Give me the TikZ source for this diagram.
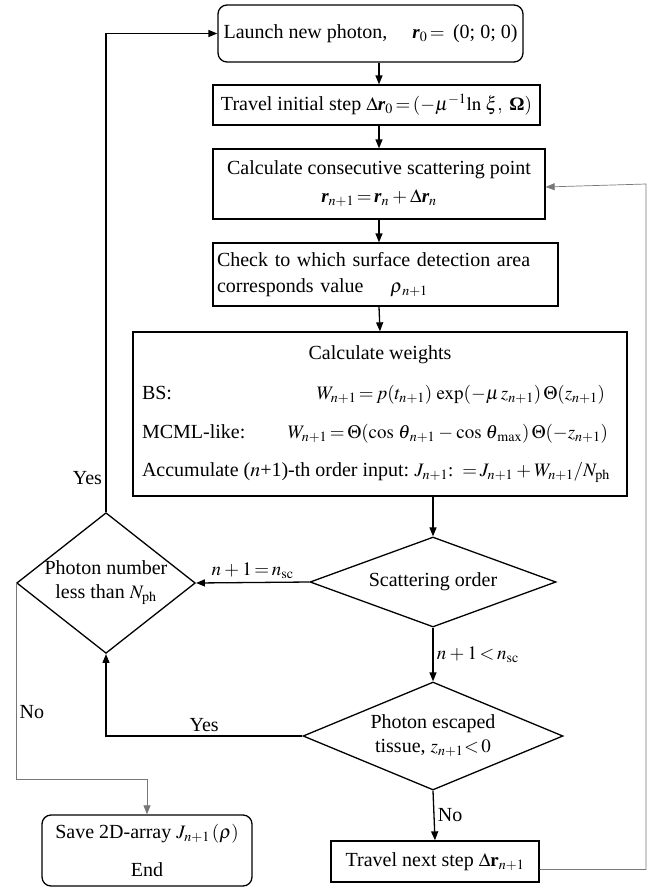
\documentclass[tikz,border=0pt]{standalone}
\usepackage{mathptmx}
\usepackage[no-math]{fontspec}
\setmainfont{Liberation Serif}
\usepackage{tikz}
\usetikzlibrary{positioning,shapes.geometric,arrows.meta}
\definecolor{flowink}{RGB}{0,0,0}
\definecolor{loopgray}{RGB}{120,120,120}
\newcommand{\bfr}{\mbox{\bfseries\itshape r}}
\newcommand{\tightmath}{\thickmuskip=2.5mu plus 1mu\medmuskip=3mu plus 1mu\thinmuskip=2mu}
\newcommand{\fm}[1]{{\fontsize{19}{23}\selectfont$#1$}}

\begin{document}
\begin{tikzpicture}[x=1pt,y=-1pt, line width=1.3pt, draw=flowink, >={Triangle[length=9pt,width=7pt]},
    every node/.style={font=\fontsize{20}{24}\selectfont\tightmath}]
  \tikzstyle{procbox}=[rectangle, draw, inner sep=0pt, align=center]
  \tikzstyle{roundbox}=[procbox, rounded corners=9pt]
  \tikzstyle{decision}=[diamond, draw, inner sep=0pt, align=center]
  \tikzstyle{thinline}=[line width=0.7pt, draw=loopgray]
  \useasboundingbox (0,0) rectangle (648,887);
  \node[roundbox, minimum width=305pt, minimum height=57pt] (launch) at (370.5,33.5)
    {Launch new photon, \quad \fm{\bfr_0 =} \,(0; 0; 0)};
  \node[procbox, minimum width=327pt, minimum height=40pt] (travel0) at (376.5,105)
    {Travel initial step \fm{\Delta\bfr_0 = (-\mu^{-1}\!\ln\,\xi,\ \mbox{\bfseries Ω})}};
  \node[procbox, minimum width=332pt, minimum height=70pt] (calc) at (379,184)
    {Calculate consecutive scattering point\\[4pt] \fm{\bfr_{n+1} = \bfr_n + \Delta\bfr_n}};
  \node[procbox, inner xsep=4pt, text width=337pt, minimum height=63pt, align=left,
    font=\fontsize{20}{26}\selectfont\tightmath] (check) at (385.5,274.5)
    {Check to which surface detection area\\corresponds value \quad \fm{\rho_{\,n+1}}};
  \node[procbox, minimum width=494pt, minimum height=164pt] (weights) at (380,414)
    {Calculate weights\\[16pt]
     \hbox to 476pt{BS:\hfill \fm{W_{n+1} = p(t_{n+1})\,\exp(-\mu\,z_{n+1})\,\Theta(z_{n+1})}\hskip 13pt}\\[15pt]
     \hbox to 476pt{MCML-like:\hfill \fm{W_{n+1} = \Theta(\cos\,\theta_{\,n+1} - \cos\,\theta_{\,\max})\,\Theta(-z_{n+1})}\hskip 10pt}\\[14pt]
     \hbox to 476pt{Accumulate ($n$+1)-th order input:\hfill \fm{J_{n+1}\mbox{: } = J_{n+1} + W_{n+1}/N_{\mathrm{ph}}}\hskip 8pt}};
  \node[decision, shape aspect=2.73, minimum width=246pt, minimum height=90pt] (scat) at (433,582)
    {Scattering order};
  \node[decision, shape aspect=1.27, minimum width=178pt, minimum height=140pt] (photon) at (106,583)
    {Photon number\\less than \fm{N_{\mathrm{ph}}}};
  \node[decision, shape aspect=2.4, minimum width=260pt, minimum height=108pt] (escaped) at (433,736)
    {Photon escaped\\tissue, \fm{z_{n+1}\!<0}};
  \node[procbox, minimum width=208pt, minimum height=41pt] (travelnext) at (435,861.5)
    {Travel next step \fm{\Delta\mathbf{r}_{n+1}}};
  \node[roundbox, minimum width=210pt, minimum height=71pt] (endbox) at (147,850.5)
    {Save 2D-array \fm{J_{n+1}\,(\rho)}\\[14pt]End};
  \coordinate (nojoin) at (147,779);
  \coordinate (rightrail) at (646,0);
  % main column
  \draw[->] (launch.south -| calc.north) -- (travel0.north -| calc.north);
  \draw[->] (travel0.south -| calc.north) -- (calc.north);
  \draw[->] (calc.south) -- (check.north -| calc.south);
  \draw[->] (check.south -| calc.south) -- (weights.north);
  \draw[->] (weights.south -| scat.north) -- (scat.north);
  \draw[->] (scat.west) -- node[above] {\fm{n+1 = n_{\mathrm{sc}}}} (photon.east);
  \draw[->] (scat.south) -- node[right] {\fm{n+1 < n_{\mathrm{sc}}}} (escaped.north);
  \draw[->] (escaped.south) -- node[right] {No} (travelnext.north);
  % loops back
  \draw[->] (escaped.west) -- node[above] {Yes} (escaped.west -| photon.south) -- (photon.south);
  \draw[->] (photon.north) -- node[left, pos=0.07] {Yes} (photon.north |- launch.west) -- (launch.west);
  \draw[thinline, ->] (photon.west) |- node[right, pos=0.33] {No} (nojoin) -- (endbox.north);
  \draw[thinline, ->] ([yshift=-8pt]travelnext.east) -| (rightrail |- calc.east) -- ([yshift=-3pt]calc.east);
\end{tikzpicture}
\end{document}
